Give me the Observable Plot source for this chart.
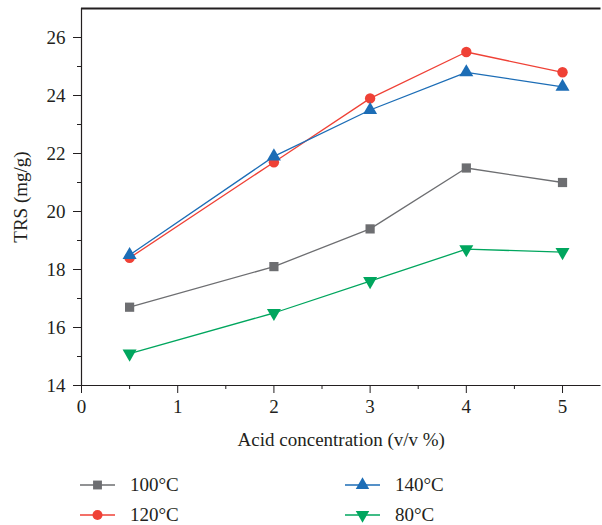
<!DOCTYPE html>
<html>
<head>
<meta charset="utf-8">
<script src="https://cdn.jsdelivr.net/npm/d3@7"></script>
<script src="https://cdn.jsdelivr.net/npm/@observablehq/plot@0.6"></script>
<style>
  body { margin: 0; background: #fff; font-family: "Liberation Serif", "DejaVu Serif", serif; }
  #chart { position: relative; width: 602px; }
  #legend { position: relative; width: 602px; height: 70px; color: #231f20; font-size: 19px; }
  .item { position: absolute; display: flex; align-items: center; height: 30px; }
  .item svg { margin-right: 14px; }
</style>
</head>
<body>
<div id="chart"></div>
<div id="legend"></div>
<script>
const concentrations = [0.5, 2, 3, 4, 5];
const seriesNames = ["100°C", "120°C", "140°C", "80°C"];
const trs100 = [16.7, 18.1, 19.4, 21.5, 21.0];
const trs120 = [18.4, 21.7, 23.9, 25.5, 24.8];
const trs140 = [18.5, 21.9, 23.5, 24.8, 24.3];
const trs80  = [15.1, 16.5, 17.6, 18.7, 18.6];
const xMajorTicks = [0, 1, 2, 3, 4, 5];
const xMinorTicks = [0.5, 1.5, 2.5, 3.5, 4.5];
const yMajorTicks = [14, 16, 18, 20, 22, 24, 26];
const yMinorTicks = [15, 17, 19, 21, 23, 25];

const colors = {"100°C": "#6d6e71", "120°C": "#ef4136", "140°C": "#1c6db6", "80°C": "#00a65e"};
const symbols = {"100°C": "square", "120°C": "circle", "140°C": "triangle", "80°C": "triangle"};
const rotations = {"100°C": 0, "120°C": 0, "140°C": 0, "80°C": 180};
const values = {"100°C": trs100, "120°C": trs120, "140°C": trs140, "80°C": trs80};

const data = seriesNames.flatMap(s => concentrations.map((c, i) => ({series: s, x: c, y: values[s][i]})));
const ink = "#231f20";

const chart = Plot.plot({
  width: 602,
  height: 455,
  marginLeft: 81,
  marginRight: 1.5,
  marginTop: 8,
  marginBottom: 70,
  style: {fontFamily: '"Liberation Serif", "DejaVu Serif", serif', fontSize: "19px", color: ink, background: "#fff"},
  x: {domain: [0, 5.4]},
  y: {domain: [14, 27]},
  marks: [
    Plot.axisX({ticks: xMajorTicks, tickFormat: d => String(d), tickSize: 8, tickPadding: 6, stroke: ink, fill: ink,
      label: "Acid concentration (v/v %)", labelAnchor: "center", labelArrow: "none", labelOffset: 60, dx: 0}),
    Plot.axisX({ticks: xMinorTicks, tickSize: 4, tickFormat: () => "", stroke: ink, label: null}),
    Plot.axisY({ticks: yMajorTicks, tickFormat: d => String(d), tickSize: 8, tickPadding: 8, stroke: ink, fill: ink,
      label: "TRS (mg/g)", labelAnchor: "center", labelArrow: "none", labelOffset: 68}),
    Plot.axisY({ticks: yMinorTicks, tickSize: 4, tickFormat: () => "", stroke: ink, label: null}),
    Plot.ruleY([14], {stroke: ink, strokeWidth: 1.2}),
    Plot.ruleY([27], {stroke: ink, strokeWidth: 1.8}),
    Plot.ruleX([0], {stroke: ink, strokeWidth: 1.2}),
    Plot.line(data, {x: "x", y: "y", z: "series", stroke: d => colors[d.series], strokeWidth: 1.3}),
    Plot.dot(data, {x: "x", y: "y", symbol: d => symbols[d.series], rotate: d => rotations[d.series],
      fill: d => colors[d.series], stroke: "none", r: 5.2})
  ]
});
document.getElementById("chart").appendChild(chart);

// Legend
const legend = document.getElementById("legend");
const legendPos = {"100°C": [80, 30], "120°C": [80, 60], "140°C": [345, 30], "80°C": [345, 60]};
for (const s of seriesNames) {
  const item = document.createElement("div");
  item.className = "item";
  item.style.left = legendPos[s][0] + "px";
  item.style.top = (legendPos[s][1] - 15) + "px";
  const sw = d3.create("svg").attr("width", 36).attr("height", 16);
  sw.append("line").attr("x1", 0).attr("x2", 35).attr("y1", 8).attr("y2", 8)
    .attr("stroke", colors[s]).attr("stroke-width", 1.3);
  const sym = {square: d3.symbolSquare, circle: d3.symbolCircle, triangle: d3.symbolTriangle}[symbols[s]];
  sw.append("path").attr("d", d3.symbol(sym, Math.PI * 5 * 5)())
    .attr("transform", `translate(17.5,8) rotate(${rotations[s]})`).attr("fill", colors[s]);
  item.appendChild(sw.node());
  const label = document.createElement("span");
  label.textContent = s;
  item.appendChild(label);
  legend.appendChild(item);
}
</script>
</body>
</html>
